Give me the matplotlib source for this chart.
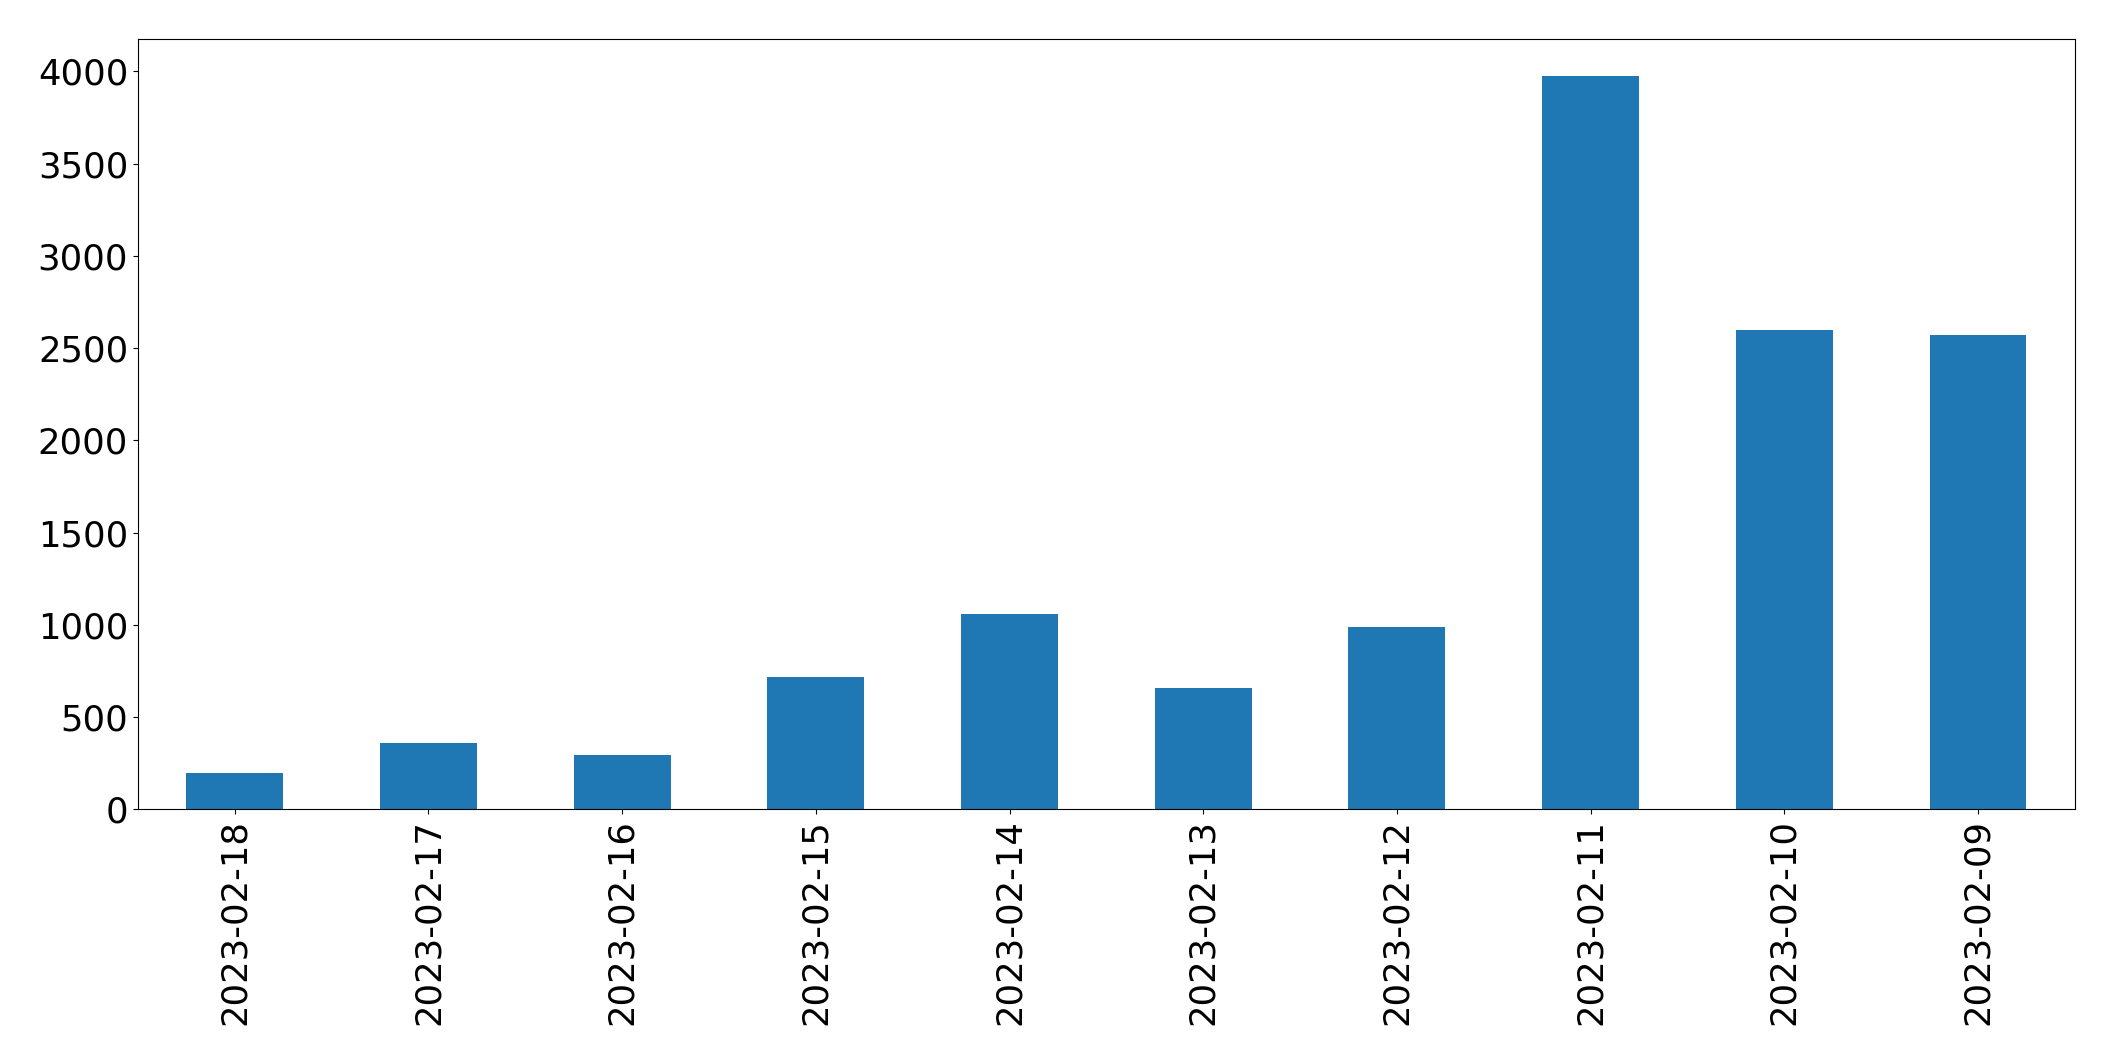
import matplotlib
matplotlib.use("Agg")
import matplotlib.pyplot as plt

dates = ["2023-02-18", "2023-02-17", "2023-02-16", "2023-02-15", "2023-02-14",
         "2023-02-13", "2023-02-12", "2023-02-11", "2023-02-10", "2023-02-09"]
counts = [199, 357, 296, 719, 1056, 659, 986, 3975, 2598, 2572]

fig = plt.figure(figsize=(21.15, 10.61), dpi=100)
ax = fig.add_axes([0.0652, 0.2372, 0.9158, 0.7258])

x = range(len(dates))
ax.bar(x, counts, width=0.5, color="#1f77b4")
ax.set_xlim(-0.5, len(dates) - 0.5)
ax.set_xticks(list(x))
ax.set_xticklabels(dates, rotation=90)
ax.tick_params(axis="both", labelsize=25.5)

fig.savefig("out.png", dpi=100)
